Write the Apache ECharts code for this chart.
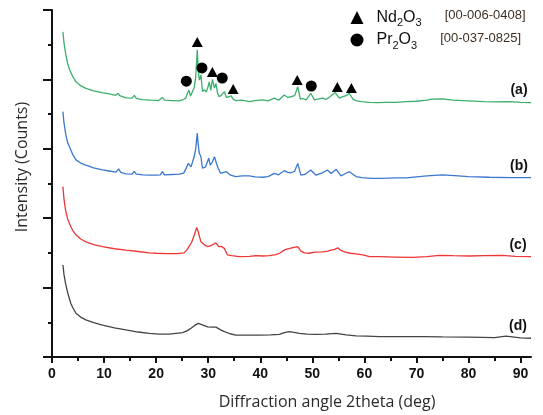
<!DOCTYPE html>
<html><head><meta charset="utf-8">
<script src="https://cdn.jsdelivr.net/npm/echarts@6/dist/echarts.min.js"></script>
<style>html,body{margin:0;padding:0;background:#fff}#c{width:543px;height:415px}</style>
</head><body><div id="c"></div>
<script>
const xTicks = [0,10,20,30,40,50,60,70,80,90];
const xMinorTicks = [5,15,25,35,45,55,65,75,85];
const panelLabels = ['(a)','(b)','(c)','(d)'];
const phaseNames = ['Nd2O3','Pr2O3'];
const phaseCards = ['[00-006-0408]','[00-037-0825]'];

const curveA = [[2.1,93.7],[2.3,90.5],[2.6,87.6],[3.0,84.6],[3.4,82.7],[4.0,80.8],[4.6,79.3],[5.5,78.2],[6.5,77.4],[8.0,76.7],[9.6,76.2],[11.0,75.8],[12.2,75.4],[12.7,76.0],[13.0,75.3],[14.2,74.7],[15.4,74.6],[15.8,75.4],[16.2,74.5],[17.3,74.2],[19.0,74.0],[20.5,73.9],[21.2,74.8],[21.6,74.0],[23.0,73.9],[24.4,73.8],[25.2,74.2],[25.7,74.6],[26.0,76.0],[26.3,76.9],[26.6,75.2],[26.9,75.6],[27.3,77.5],[27.6,80.5],[27.9,88.5],[28.1,82.5],[28.3,79.8],[28.6,81.3],[28.9,76.5],[29.3,77.0],[29.6,76.4],[29.9,77.5],[30.2,79.3],[30.5,76.8],[30.8,80.0],[31.2,77.5],[31.5,78.8],[31.8,76.0],[32.1,75.0],[32.5,75.4],[33.1,76.5],[33.5,74.8],[34.0,75.0],[34.4,75.3],[34.8,74.3],[35.3,73.9],[36.5,74.0],[37.9,73.6],[39.0,73.9],[40.4,74.1],[41.5,73.8],[42.7,74.6],[43.5,74.0],[44.6,75.5],[45.3,74.8],[45.9,75.0],[46.6,75.3],[47.2,77.9],[47.7,74.3],[48.2,74.5],[48.8,74.1],[49.7,76.0],[50.4,74.1],[51.2,74.4],[52.0,74.6],[52.6,74.2],[53.3,74.9],[54.4,76.2],[55.2,74.6],[55.8,75.0],[56.5,75.3],[57.1,76.0],[57.8,74.3],[58.5,73.8],[59.4,73.6],[61.0,73.4],[62.5,73.3],[64.0,73.4],[66.0,73.4],[68.0,73.6],[70.0,73.7],[72.0,74.0],[73.0,74.3],[75.0,74.4],[77.0,74.0],[80.0,73.8],[83.0,73.6],[85.0,73.5],[88.0,73.6],[90.0,73.4],[92.0,73.3]];

const curveB = [[2.1,70.7],[2.3,67.5],[2.6,64.5],[3.0,61.8],[3.6,59.7],[4.0,58.3],[4.6,56.8],[5.5,55.9],[6.5,55.3],[8.0,54.5],[9.7,53.9],[11.0,53.6],[12.3,53.3],[12.8,54.2],[13.2,53.2],[14.2,52.8],[15.4,52.7],[15.8,53.5],[16.2,52.7],[17.5,52.5],[18.7,52.4],[20.0,52.4],[20.8,52.5],[21.2,53.4],[21.6,52.5],[23.0,52.6],[24.4,52.7],[25.3,53.0],[25.8,54.5],[26.2,55.8],[26.7,54.8],[27.3,57.7],[27.6,60.0],[27.9,64.5],[28.1,61.0],[28.3,58.7],[28.6,57.7],[28.9,54.4],[29.5,54.8],[30.1,57.3],[30.4,55.3],[30.8,56.2],[31.2,57.7],[31.8,54.8],[32.4,52.9],[33.0,53.2],[33.5,53.4],[34.3,52.4],[35.3,52.0],[36.5,52.2],[37.9,52.2],[39.0,51.9],[40.4,51.8],[41.5,52.0],[42.7,52.9],[43.5,52.5],[44.6,53.7],[45.3,53.2],[45.9,53.1],[46.6,53.5],[47.2,55.8],[47.8,52.4],[48.6,52.6],[49.7,53.9],[50.7,52.4],[51.8,53.0],[52.9,53.9],[53.6,52.9],[54.6,54.1],[55.5,52.2],[56.3,52.8],[57.1,53.4],[58.4,52.0],[59.5,51.7],[61.3,51.5],[63.0,51.5],[66.1,51.6],[68.0,51.6],[70.0,51.9],[72.0,52.2],[75.0,52.5],[78.0,52.2],[80.0,52.0],[84.0,51.8],[88.0,51.7],[92.0,51.7]];

const curveC = [[2.1,49.1],[2.3,45.5],[2.6,42.4],[3.0,39.8],[3.6,37.6],[4.0,36.4],[4.6,35.2],[5.5,34.0],[6.5,33.2],[8.0,32.4],[9.7,31.8],[12.0,31.2],[14.2,30.8],[16.5,30.4],[18.7,30.0],[20.0,29.9],[22.0,29.8],[24.0,29.8],[25.4,30.0],[26.0,31.0],[26.3,31.8],[26.8,33.0],[27.3,35.0],[27.8,37.3],[28.1,36.0],[28.6,33.2],[29.3,32.3],[29.9,31.8],[30.5,32.1],[31.0,32.5],[31.5,32.9],[32.0,31.8],[32.5,31.9],[33.1,31.3],[33.7,29.4],[34.5,29.2],[36.0,28.9],[37.9,29.0],[39.2,29.2],[40.5,29.1],[41.7,29.2],[43.0,29.5],[43.7,29.9],[44.3,30.5],[44.9,31.0],[45.7,31.3],[46.5,31.6],[47.2,31.8],[47.8,30.5],[48.5,30.0],[49.4,29.9],[50.5,30.2],[52.0,30.3],[53.0,30.5],[53.6,30.8],[54.3,31.0],[54.9,31.5],[55.5,30.7],[56.2,30.3],[57.3,29.9],[58.4,29.7],[59.7,29.4],[61.0,28.9],[62.9,28.9],[66.0,28.8],[69.3,28.7],[72.0,28.9],[74.4,29.3],[77.0,29.2],[80.2,29.1],[83.0,29.2],[86.5,29.3],[89.0,29.0],[92.0,28.9]];

const curveD = [[2.1,26.5],[2.3,23.8],[2.6,21.2],[3.0,18.6],[3.6,15.5],[4.0,14.2],[4.6,12.6],[5.5,11.5],[6.5,10.7],[8.0,9.9],[9.7,9.2],[12.0,8.4],[14.2,7.8],[16.5,7.2],[18.7,6.8],[20.5,6.6],[22.5,6.6],[25.1,7.0],[26.0,7.6],[26.7,8.3],[27.4,9.1],[28.1,9.7],[29.0,9.2],[29.9,8.7],[30.7,8.6],[31.5,8.6],[32.3,7.9],[33.1,7.3],[34.2,6.7],[35.3,6.3],[37.5,6.3],[39.8,6.3],[42.0,6.4],[43.7,6.5],[44.6,7.0],[45.6,7.3],[46.5,7.1],[47.5,6.8],[49.0,6.6],[50.7,6.5],[52.5,6.6],[54.6,6.8],[56.5,6.4],[58.4,6.1],[60.5,6.0],[62.9,5.9],[66.0,5.9],[71.2,5.9],[75.0,5.8],[80.0,5.7],[85.0,5.6],[87.2,6.0],[87.5,5.6],[90.0,5.5],[92.0,5.4]];

const ndPeaks = [[27.9,90.8],[30.8,82.1],[34.8,77.2],[47.1,79.8],[54.8,77.8],[57.5,77.5]];
const prPeaks = [[25.8,79.5],[28.8,83.3],[32.7,80.4],[49.8,78.1]];

const curves = [curveA, curveB, curveC, curveD];
const curveColors = ['#3bb06c','#3a78cf','#f03535','#444444'];

const chart = echarts.init(document.getElementById('c'), null, {renderer:'canvas'});
const lineSeries = curves.map((d,i)=>({
  name: panelLabels[i], type:'line', data:d, showSymbol:false, symbol:'none',
  lineStyle:{width:1.3, color:curveColors[i]}, itemStyle:{color:curveColors[i]},
  silent:true, animation:false, z:2
}));
const fmtPhase = (name) => {
  const i = phaseNames.indexOf(name);
  const parts = name.match(/[A-Za-z]+|\d/g);
  let s = '{p|}';
  parts.forEach(t => { s += /\d/.test(t) ? '{s|'+t+'}' : '{n|'+t+'}'; });
  return s + '{c|'+phaseCards[i]+'}';
};
chart.setOption({
  animation:false,
  backgroundColor:'#fff',
  grid:{left:52, right:12, top:10, bottom:58},
  legend:{
    data:phaseNames, orient:'vertical', left:345.5, top:4, itemGap:3,
    itemWidth:13, itemHeight:13, selectedMode:false,
    formatter: fmtPhase,
    itemStyle:{opacity:1},
    textStyle:{
      rich:{
        p:{width:8},
        n:{fontSize:16, fontFamily:'Liberation Sans', color:'#111', lineHeight:22, verticalAlign:'middle'},
        s:{fontSize:11, fontFamily:'Liberation Sans', color:'#111', lineHeight:12, verticalAlign:'bottom'},
        c:{fontSize:13, fontFamily:'Liberation Sans', color:'#3e3024', lineHeight:22, padding:[0,0,4,23], verticalAlign:'middle'}
      }
    }
  },
  xAxis:[{
    type:'value', min:0, max:92, interval:10,
    axisLine:{show:true, onZero:false, lineStyle:{color:'#111', width:2}},
    axisTick:{show:true, customValues:xTicks, length:6, inside:false, lineStyle:{color:'#111', width:2}},
    axisLabel:{customValues:xTicks, margin:10, color:'#111', fontSize:14, fontWeight:'bold', fontFamily:'Liberation Sans'},
    splitLine:{show:false}
  },{
    type:'value', min:0, max:92, position:'bottom', gridIndex:0,
    axisLine:{show:false},
    axisTick:{show:true, customValues:xMinorTicks, length:4, lineStyle:{color:'#111', width:2}},
    axisLabel:{show:false}, splitLine:{show:false}
  }],
  yAxis:{
    type:'value', min:0, max:100, interval:20,
    axisLine:{show:true, onZero:false, lineStyle:{color:'#111', width:2}},
    axisTick:{show:true, length:9, lineStyle:{color:'#111', width:2}},
    minorTick:{show:true, splitNumber:2, length:4, lineStyle:{color:'#111', width:2}},
    axisLabel:{show:false}, splitLine:{show:false}
  },
  series: lineSeries.concat([
    {name:phaseNames[0], type:'scatter', data:ndPeaks, symbol:'triangle', symbolSize:[11,10], itemStyle:{color:'#000', opacity:1}, z:5},
    {name:phaseNames[1], type:'scatter', data:prPeaks, symbol:'circle', symbolSize:11, itemStyle:{color:'#000', opacity:1}, z:5}
  ]),
  graphic:[
    {type:'text', x:22, y:167, rotation:Math.PI/2, style:{text:'Intensity (Counts)', align:'center', verticalAlign:'middle', fontSize:16, fontFamily:'Open Sans', fill:'#2a2a2a'}},
    {type:'text', x:327, y:402, style:{text:'Diffraction angle 2theta (deg)', align:'center', verticalAlign:'middle', fontSize:16, fontFamily:'Open Sans', fill:'#2a2a2a'}},
    {type:'text', x:519, y:90, style:{text:panelLabels[0], align:'center', verticalAlign:'middle', fontSize:14, fontWeight:'bold', fontFamily:'Liberation Sans', fill:'#111'}},
    {type:'text', x:519, y:166, style:{text:panelLabels[1], align:'center', verticalAlign:'middle', fontSize:14, fontWeight:'bold', fontFamily:'Liberation Sans', fill:'#111'}},
    {type:'text', x:518, y:245, style:{text:panelLabels[2], align:'center', verticalAlign:'middle', fontSize:14, fontWeight:'bold', fontFamily:'Liberation Sans', fill:'#111'}},
    {type:'text', x:518, y:326, style:{text:panelLabels[3], align:'center', verticalAlign:'middle', fontSize:14, fontWeight:'bold', fontFamily:'Liberation Sans', fill:'#111'}}
  ]
});
</script></body></html>
